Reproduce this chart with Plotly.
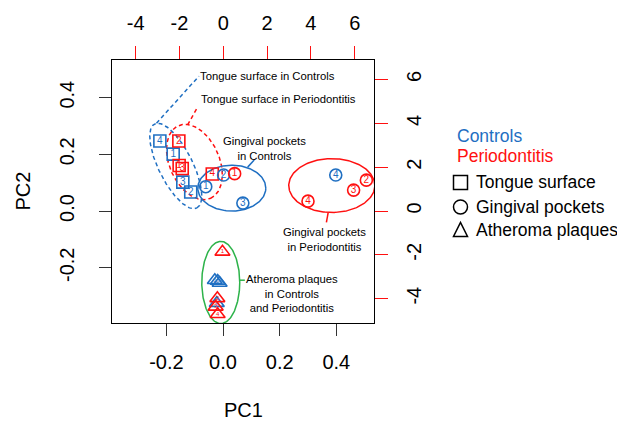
import numpy as np
import plotly.graph_objects as go

BLUE = "#1f6fc2"
RED = "#ff1010"
GREEN = "#2db34a"

# ---- data (PC1, PC2) ----
ts_ctrl_x = [-0.176, -0.114, -0.142, -0.223]
ts_ctrl_y = [0.201, 0.067, 0.102, 0.247]
ts_ctrl_lab = ["1", "2", "3", "4"]

ts_perio_x = [-0.155, -0.156, -0.144, -0.038]
ts_perio_y = [0.161, 0.247, 0.150, 0.131]
ts_perio_lab = ["1", "2", "3", "4"]

gp_ctrl_x = [-0.061, 0.002, 0.070, 0.398]
gp_ctrl_y = [0.086, 0.127, 0.028, 0.127]
gp_ctrl_lab = ["1", "2", "3", "4"]

gp_perio_x = [0.041, 0.506, 0.461, 0.300]
gp_perio_y = [0.132, 0.109, 0.074, 0.035]
gp_perio_lab = ["1", "2", "3", "4"]

ap_ctrl_x = [-0.029, -0.019, -0.012, -0.022]
ap_ctrl_y = [-0.244, -0.247, -0.254, -0.325]
ap_ctrl_lab = ["1", "2", "3", "4"]

ap_perio_x = [-0.002, -0.020, -0.026, -0.019]
ap_perio_y = [-0.144, -0.308, -0.338, -0.364]
ap_perio_lab = ["1", "2", "3", "4"]

# axis ticks
pc_ticks = [-0.2, 0.0, 0.2, 0.4]
pc_ticktext = ["-0.2", "0.0", "0.2", "0.4"]
load_ticks = [-4, -2, 0, 2, 4, 6]
load_ticktext = ["-4", "-2", "0", "2", "4", "6"]

# ellipses: (cx, cy, a, b, angle_deg, color, dash)
ellipses = [
    (-0.167, 0.159, 0.166, 0.060, -63.4, BLUE, "dash"),
    (-0.101, 0.173, 0.140, 0.088, -66.0, RED, "dash"),
    (0.031, 0.081, 0.120, 0.081, 0.0, BLUE, "solid"),
    (0.384, 0.090, 0.152, 0.095, 0.0, RED, "solid"),
    (-0.008, -0.252, 0.067, 0.145, 0.0, GREEN, "solid"),
]

# leader lines: (x0, y0, x1, y1, color, dash)
leaders = [
    (-0.235, 0.310, -0.085, 0.476, BLUE, "dash"),
    (-0.125, 0.304, -0.089, 0.368, RED, "dash"),
    (0.087, 0.155, 0.110, 0.180, BLUE, "solid"),
    (0.371, -0.006, 0.365, -0.040, RED, "solid"),
    (0.059, -0.244, 0.077, -0.244, GREEN, "solid"),
]

fig = go.Figure()

t = np.linspace(0, 2 * np.pi, 200)
for cx, cy, a, b, ang, col, dash in ellipses:
    th = np.deg2rad(ang)
    ex = cx + a * np.cos(t) * np.cos(th) - b * np.sin(t) * np.sin(th)
    ey = cy + a * np.cos(t) * np.sin(th) + b * np.sin(t) * np.cos(th)
    fig.add_trace(go.Scatter(x=ex, y=ey, mode="lines",
                             line=dict(color=col, width=1.5, dash="4px,3px" if dash == "dash" else dash),
                             hoverinfo="skip", showlegend=False))

for x0, y0, x1, y1, col, dash in leaders:
    fig.add_trace(go.Scatter(x=[x0, x1], y=[y0, y1], mode="lines",
                             line=dict(color=col, width=1.5, dash="4px,3px" if dash == "dash" else dash),
                             hoverinfo="skip", showlegend=False))


def add_pts(xs, ys, labs, col, sym, size, tsize):
    fig.add_trace(go.Scatter(
        x=xs, y=ys, mode="markers+text", text=labs,
        textposition="middle center",
        textfont=dict(color=col, size=tsize, family="Liberation Sans, Arial"),
        marker=dict(symbol=sym, size=size, color="rgba(255,255,255,0)",
                    line=dict(color=col, width=1.6)),
        showlegend=False, cliponaxis=False))


add_pts(ts_ctrl_x, ts_ctrl_y, ts_ctrl_lab, BLUE, "square", 12, 10)
add_pts(ts_perio_x, ts_perio_y, ts_perio_lab, RED, "square", 12, 10)
add_pts(gp_ctrl_x, gp_ctrl_y, gp_ctrl_lab, BLUE, "circle", 12, 10)
add_pts(gp_perio_x, gp_perio_y, gp_perio_lab, RED, "circle", 12, 10)
add_pts(ap_ctrl_x, ap_ctrl_y, ap_ctrl_lab, BLUE, "triangle-up", 13, 6)
add_pts(ap_perio_x, ap_perio_y, ap_perio_lab, RED, "triangle-up", 13, 6)

# dummy trace for the secondary (loadings) axes
fig.add_trace(go.Scatter(x=[0], y=[0], xaxis="x2", yaxis="y2", mode="markers",
                         marker=dict(opacity=0), hoverinfo="skip", showlegend=False))

FONT = "Liberation Sans, Arial, sans-serif"
ann_font = dict(family=FONT, size=11.3, color="black")
annotations = [
    dict(x=-0.089, y=0.477, text="Tongue surface in Controls", xanchor="left"),
    dict(x=-0.085, y=0.394, text="Tongue surface in Periodontitis", xanchor="left"),
    dict(x=0.148, y=0.222, text="Gingival pockets<br>in Controls", xanchor="center"),
    dict(x=0.359, y=-0.102, text="Gingival pockets<br>in Periodontitis", xanchor="center"),
    dict(x=0.242, y=-0.291, text="Atheroma plaques<br>in Controls<br>and Periodontitis", xanchor="center"),
]
anns = []
for a in annotations:
    anns.append(dict(xref="x", yref="y", showarrow=False, yanchor="middle",
                     font=ann_font, **a))

# axis titles
anns.append(dict(xref="paper", yref="paper", x=0.5, y=-0.331, text="PC1",
                 showarrow=False, font=dict(family=FONT, size=20), yanchor="middle"))
anns.append(dict(xref="paper", yref="paper", x=-0.3435, y=0.5, text="PC2",
                 showarrow=False, font=dict(family=FONT, size=20), textangle=-90,
                 xanchor="center", yanchor="middle"))


# legend (paper coordinates relative to plot area)
def px(x):
    return (x - 112) / 262.0


def py(y):
    return (323 - y) / 263.0


leg_font = 17.5
anns.append(dict(xref="paper", yref="paper", x=px(455), y=py(136), text="Controls",
                 showarrow=False, xanchor="left", yanchor="middle",
                 font=dict(family=FONT, size=leg_font, color=BLUE)))
anns.append(dict(xref="paper", yref="paper", x=px(455), y=py(156), text="Periodontitis",
                 showarrow=False, xanchor="left", yanchor="middle",
                 font=dict(family=FONT, size=leg_font, color=RED)))
for label, yy in [("Tongue surface", 182), ("Gingival pockets", 207), ("Atheroma plaques", 230)]:
    anns.append(dict(xref="paper", yref="paper", x=px(474), y=py(yy), text=label,
                     showarrow=False, xanchor="left", yanchor="middle",
                     font=dict(family=FONT, size=leg_font, color="black")))

shapes = [
    dict(type="rect", xref="paper", yref="paper", x0=px(453.5), x1=px(467.5),
         y0=py(189.5), y1=py(175.5), line=dict(color="black", width=1.5)),
    dict(type="circle", xref="paper", yref="paper", x0=px(453.5), x1=px(467.5),
         y0=py(214), y1=py(200), line=dict(color="black", width=1.5)),
    dict(type="path", xref="paper", yref="paper",
         path=f"M {px(453.5)} {py(236.5)} L {px(467.5)} {py(236.5)} L {px(460.5)} {py(222.5)} Z",
         line=dict(color="black", width=1.5)),
]

common = dict(showgrid=False, zeroline=False, automargin=False,
              tickfont=dict(size=20), tickwidth=1.2, ticks="outside")

# the page body adds an 8px offset; compensate with a smaller figure / margins
fig.update_layout(
    width=617, height=419,
    margin=dict(l=104, r=251, t=52, b=104, pad=0, autoexpand=False),
    plot_bgcolor="white", paper_bgcolor="white",
    font=dict(family=FONT, color="black"),
    showlegend=False,
    annotations=anns,
    shapes=shapes,
    xaxis=dict(range=[-0.392, 0.533], tickvals=pc_ticks, ticktext=pc_ticktext,
               ticklen=12, tickcolor="#333",
               showline=True, mirror=True, linecolor="black", linewidth=1.2,
               ticklabelstandoff=9, **common),
    yaxis=dict(range=[-0.395, 0.533], tickvals=pc_ticks, ticktext=pc_ticktext,
               ticklen=12, tickcolor="#333",
               showline=True, mirror=True, linecolor="black", linewidth=1.2,
               tickangle=-90, ticklabelstandoff=17, **common),
    xaxis2=dict(overlaying="x", side="top", range=[-5.08, 6.88],
                tickvals=load_ticks, ticktext=load_ticktext,
                ticklen=13, tickcolor=RED, showline=False,
                ticklabelstandoff=8, **common),
    yaxis2=dict(overlaying="y", side="right", range=[-5.11, 6.89],
                tickvals=load_ticks, ticktext=load_ticktext,
                ticklen=13, tickcolor=RED, showline=False,
                tickangle=-90, ticklabelstandoff=9, **common),
)

fig.write_html("out.html")
